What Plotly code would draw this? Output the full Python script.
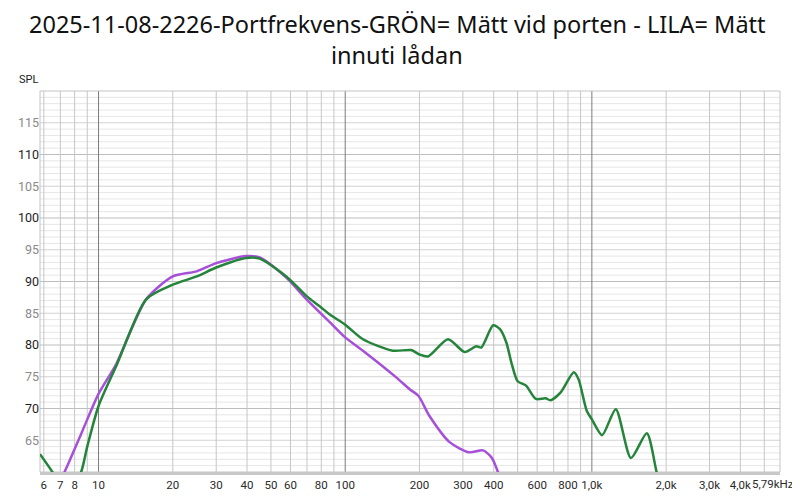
import numpy as np
import plotly.graph_objects as go

# green = measured at the port, purple = measured inside the box
green_freq = [5.79, 6.5, 7.5, 8.5, 9, 10, 11.8, 15.6, 20, 25, 30, 39.7, 45, 57.7, 69.7, 78.8, 86.6,
              100, 118, 156, 185, 200, 217, 261, 305, 340, 356, 398, 424, 450, 472, 500, 541,
              593, 649, 680, 746, 845, 883, 954, 1000, 1100, 1250, 1440, 1670, 1830, 1900]
green_spl = [62.8, 60, 56, 60, 64, 70.4, 76.7, 87.2, 89.5, 90.8, 92.2, 93.7, 93.6, 90.8, 87.7, 86.1, 84.8,
             83.2, 80.9, 79.1, 79.2, 78.5, 78.2, 80.9, 78.9, 79.8, 79.6, 83.1, 82.5, 80.4, 77.2, 74.3, 73.6,
             71.5, 71.6, 71.3, 72.5, 75.7, 74.6, 69.6, 68.3, 65.8, 69.9, 62.2, 66.1, 60, 58]

purple_freq = [6.2, 7.28, 8.5, 10, 11.8, 15.6, 20, 25, 30, 39.7, 45, 57.7, 69.7, 86.6,
               100, 118, 161, 183, 198, 219, 265, 318, 362, 392, 416, 430]
purple_spl = [55, 60, 66, 72.3, 77, 87.2, 90.8, 91.6, 92.9, 94.0, 93.8, 90.6, 87.2, 83.6,
              81.2, 79.1, 74.9, 73.0, 72.0, 68.9, 64.7, 63.1, 63.4, 62.3, 60, 58]

x_tickvals = [6, 7, 8, 10, 20, 30, 40, 50, 60, 80, 100, 200, 300, 400, 600, 800,
              1000, 2000, 3000, 4000]
x_ticktext = ['6', '7', '8', '10', '20', '30', '40', '50', '60', '80', '100', '200', '300', '400',
              '600', '800', '1,0k', '2,0k', '3,0k', '4,0k']
x_end_label = '5,79kHz'
y_tickvals = [65, 70, 75, 80, 85, 90, 95, 100, 105, 110, 115]

title_lines = ['2025-11-08-2226-Portfrekvens-GRÖN= Mätt vid porten - LILA= Mätt', 'innuti lådan']

x_min, x_max = 5.79, 5790
y_min, y_max = 60, 120

fig = go.Figure()

fig.add_trace(go.Scatter(x=purple_freq, y=purple_spl, mode='lines',
                         line=dict(color='#a64fd8', width=2.5, shape='spline', smoothing=0.7),
                         name='LILA'))
fig.add_trace(go.Scatter(x=green_freq, y=green_spl, mode='lines',
                         line=dict(color='#23843a', width=2.5, shape='spline', smoothing=0.7),
                         name='GRÖN'))

# grid lines
shapes = []
for v in range(y_min + 1, y_max):
    if v % 10 == 0:
        col = '#bdbdbd'
    elif v % 5 == 0:
        col = '#d2d2d2'
    else:
        col = '#e6e6e6'
    shapes.append(dict(type='line', xref='paper', yref='y', x0=0, x1=1, y0=v, y1=v,
                       line=dict(color=col, width=1), layer='below'))

for dec in [1, 10, 100, 1000]:
    for m in range(1, 10):
        f = dec * m
        if f <= x_min or f >= x_max:
            continue
        col = '#7a7a7a' if m == 1 else '#c6c6c6'
        shapes.append(dict(type='line', xref='x', yref='paper', x0=f, x1=f, y0=0, y1=1,
                           line=dict(color=col, width=1), layer='below'))

shapes.append(dict(type='rect', xref='paper', yref='paper', x0=0, x1=1, y0=0, y1=1,
                   line=dict(color='#c4c4c4', width=1), layer='below'))

y_ticktext = []
for v in y_tickvals:
    c = '#1e1e1e' if v % 10 == 0 else '#8a8a8a'
    y_ticktext.append('<span style="color:%s">%d</span>' % (c, v))

# page body has an 8px margin, so the figure is offset by 8px inside the window
fig.update_layout(
    width=792, height=489,
    margin=dict(l=32, r=20, t=83, b=25),
    paper_bgcolor='white', plot_bgcolor='white',
    showlegend=False,
    shapes=shapes,
    font=dict(family='Roboto', size=12, color='#333333'),
)

fig.update_xaxes(type='log', range=[np.log10(x_min), np.log10(x_max)], automargin=False,
                 tickvals=x_tickvals, ticktext=x_ticktext, showgrid=False, zeroline=False,
                 showline=True, linecolor='#c8c8c8', linewidth=3, ticks='', tickangle=0,
                 tickfont=dict(family='Roboto', size=11.5, color='#2a2a2a'))
fig.update_yaxes(range=[y_min, y_max], tickvals=y_tickvals, ticktext=y_ticktext, automargin=False,
                 showgrid=False, zeroline=False, ticks='',
                 tickfont=dict(family='Roboto', size=12.5))

# title as two centred lines
for i, line in enumerate(title_lines):
    fig.add_annotation(text=line, xref='paper', yref='paper', x=0.483, y=1, xanchor='center',
                       yanchor='middle', yshift=67 - 31 * i, showarrow=False,
                       font=dict(family='Noto Sans', size=23.5, color='#111111'))

fig.add_annotation(text='SPL', xref='paper', yref='paper', x=-0.016, y=1.0, xanchor='center',
                   yanchor='bottom', yshift=3, showarrow=False,
                   font=dict(family='Roboto', size=11, color='#222222'))

fig.add_annotation(text=x_end_label, xref='paper', yref='paper', x=1, y=0, xanchor='right',
                   yanchor='top', xshift=16, yshift=-3, showarrow=False,
                   font=dict(family='Roboto', size=11.5, color='#2a2a2a'))

fig.write_html('out.html')
